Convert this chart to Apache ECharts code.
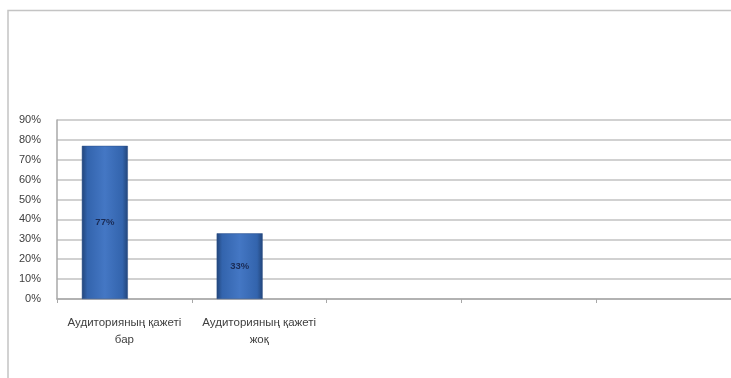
<!DOCTYPE html>
<html>
<head>
<meta charset="utf-8">
<script src="https://cdn.jsdelivr.net/npm/echarts@6/dist/echarts.min.js"></script>
<style>
  html, body { margin: 0; padding: 0; background: #ffffff; }
  #chart { width: 731px; height: 378px; }
</style>
</head>
<body>
<div id="chart"></div>
<script>
// Survey answers: share of respondents (percent)
const categories = ['Аудиторияның қажеті\nбар', 'Аудиторияның қажеті\nжоқ', '', '', ''];
const seriesOne = [77, 33, null, null, null];
const seriesTwo = [null, null, null, null, null];
const yTicks = { min: 0, max: 90, step: 10 };

const barFill = new echarts.graphic.LinearGradient(0, 0, 1, 0, [
  { offset: 0, color: '#22457a' },
  { offset: 0.12, color: '#3364ad' },
  { offset: 0.5, color: '#4477c4' },
  { offset: 0.88, color: '#3364ad' },
  { offset: 1, color: '#22457a' }
]);

const chart = echarts.init(document.getElementById('chart'), null, { renderer: 'canvas' });

chart.setOption({
  animation: false,
  backgroundColor: '#ffffff',
  graphic: [{
    type: 'rect',
    shape: { x: 8, y: 10.5, width: 760, height: 400 },
    style: { fill: 'none', stroke: '#c4c4c4', lineWidth: 1.5 },
    silent: true,
    z: -1
  }],
  grid: { left: 57, right: -3, top: 120, bottom: 79 },
  xAxis: {
    type: 'category',
    data: categories,
    axisLine: { lineStyle: { color: '#a8a8a8', width: 1.5 } },
    axisTick: { show: true, length: 4, lineStyle: { color: '#a8a8a8' } },
    axisLabel: {
      interval: 0,
      margin: 15,
      fontSize: 11.5,
      lineHeight: 17,
      color: '#404040',
      fontFamily: 'Liberation Sans, Arial, sans-serif'
    }
  },
  yAxis: {
    type: 'value',
    min: yTicks.min,
    max: yTicks.max,
    interval: yTicks.step,
    axisLine: { show: true, lineStyle: { color: '#a8a8a8', width: 1.5 } },
    axisTick: { show: false },
    axisLabel: {
      formatter: '{value}%',
      margin: 16,
      fontSize: 11,
      color: '#404040',
      fontFamily: 'Liberation Sans, Arial, sans-serif'
    },
    splitLine: { lineStyle: { color: '#c2c2c2', width: 1.5 } }
  },
  series: [
    {
      type: 'bar',
      data: seriesOne,
      barWidth: 46,
      barGap: '-15%',
      itemStyle: { color: barFill, borderColor: '#2a4f88', borderWidth: 0.5 },
      label: {
        show: true,
        position: 'inside',
        formatter: '{c}%',
        fontSize: 9.5,
        fontWeight: 'bold',
        color: '#1a2b55',
        fontFamily: 'Liberation Sans, Arial, sans-serif'
      }
    },
    {
      type: 'bar',
      data: seriesTwo,
      barWidth: 46,
      itemStyle: { color: '#c0504d' }
    }
  ]
});
</script>
</body>
</html>
